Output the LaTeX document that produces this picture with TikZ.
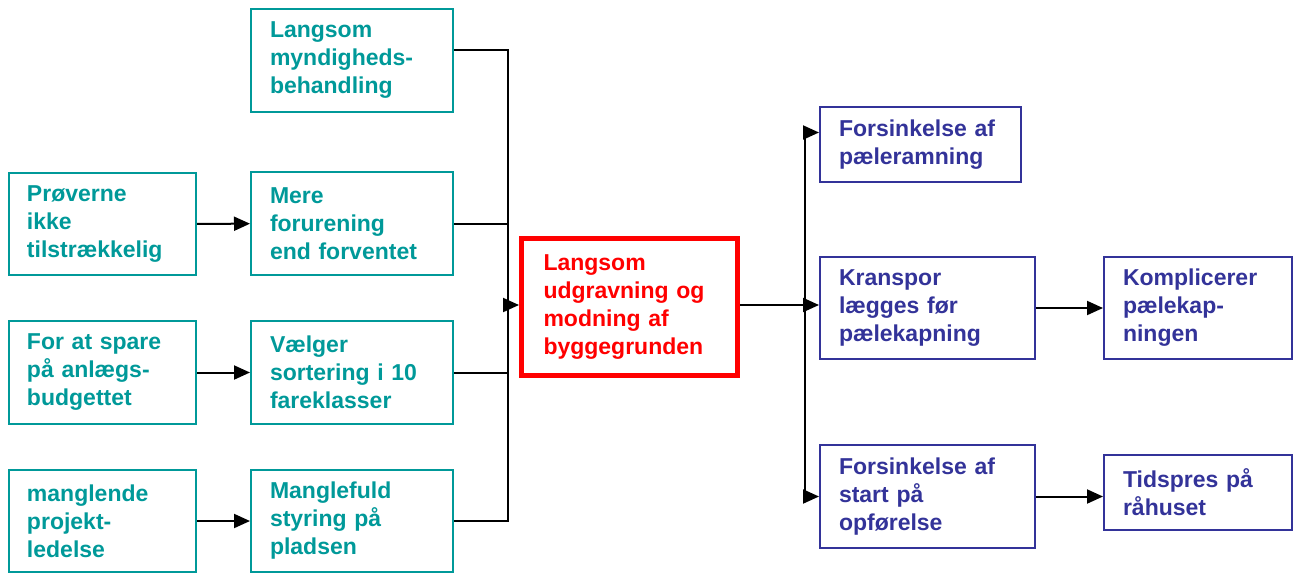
\documentclass[tikz,border=0pt]{standalone}
\usepackage{fontspec}
\setmainfont{Liberation Sans}
\usetikzlibrary{arrows.meta}
\definecolor{causeteal}{RGB}{0,153,153}
\definecolor{effectblue}{RGB}{51,51,153}
\begin{document}
\begin{tikzpicture}[x=1pt,y=1pt,
        box/.style={draw, line width=2pt, anchor=north west, inner xsep=20pt, inner ysep=0pt,
            align=left, font=\bfseries\fontsize{23}{28}\selectfont},
        cause/.style={box, draw=causeteal, text=causeteal},
        leftbox/.style={cause, inner xsep=18pt, minimum width=187pt, text width=151pt},
        midbox/.style={cause, inner xsep=19pt, minimum width=202pt, text width=164pt},
        effect/.style={box, draw=effectblue, text=effectblue, inner xsep=19pt},
        link/.style={line width=2pt},
        tip/.style={link, -{Triangle[length=16pt,width=14pt]}}]
    \useasboundingbox (0,0) rectangle (1297,-574);
    % causes
    \node [leftbox, minimum height=102pt] (proeve) at (8,-172) {Prøverne\\ikke\\tilstrækkelig};
    \node [leftbox, minimum height=103pt] (spare) at (8,-320) {For at spare\\på anlægs-\\budgettet};
    \node [leftbox, minimum height=102pt] (ledelse) at (8,-469) {manglende\\projekt-\\ledelse};
    \node [midbox, minimum height=103pt] (myndighed) at (250,-8) {Langsom\\myndigheds-\\behandling};
    \node [midbox, minimum height=103pt] (forurening) at (250,-171) {Mere\\forurening\\end forventet};
    \node [midbox, minimum height=103pt] (sortering) at (250,-320) {Vælger\\sortering i 10\\fareklasser};
    \node [midbox, minimum height=102pt] (styring) at (250,-469) {Manglefuld\\styring på\\pladsen};
    % main problem
    \node [box, draw=red, text=red, line width=5pt, inner xsep=22pt, minimum width=216pt,
        minimum height=137pt, text width=172pt] (udgravning) at (519,-236)
        {Langsom\\udgravning og\\modning af\\byggegrunden};
    % effects
    \node [effect, minimum width=201pt, minimum height=75pt, text width=163pt] (ramning) at (819,-106) {Forsinkelse af\\pæleramning};
    \node [effect, minimum width=215pt, minimum height=102pt, text width=177pt] (kranspor) at (819,-256) {Kranspor\\lægges før\\pælekapning};
    \node [effect, minimum width=188pt, minimum height=102pt, text width=150pt] (kapning) at (1103,-256) {Komplicerer\\pælekap-\\ningen};
    \node [effect, minimum width=215pt, minimum height=103pt, text width=177pt] (opfoerelse) at (819,-444) {Forsinkelse af\\start på\\opførelse};
    \node [effect, minimum width=188pt, minimum height=75pt, text width=150pt] (raahus) at (1103,-454) {Tidspres på\\råhuset};
    % connectors
    \coordinate (venstre) at (508,-305);
    \coordinate (hoejre) at (805,-305);
    \draw[tip] (proeve) -- (forurening);
    \draw[tip] (spare) -- (sortering);
    \draw[tip] (ledelse) -- (styring);
    \draw[link] ([yshift=11pt]myndighed.east) -| (venstre);
    \draw[link] (forurening.east) -| (venstre);
    \draw[link] (sortering.east) -| (venstre);
    \draw[link] (styring.east) -| (venstre);
    \draw[tip] (venstre) -- (udgravning.west |- venstre);
    \draw[link] (udgravning.east |- hoejre) -- (hoejre);
    \draw[tip] (hoejre) |- ([yshift=12pt]ramning.west);
    \draw[tip] (hoejre) -- (kranspor.west |- hoejre);
    \draw[tip] (hoejre) |- (opfoerelse.west);
    \draw[tip] (kranspor) -- (kapning);
    \draw[tip] (opfoerelse.east) -- (opfoerelse.east -| raahus.west);
\end{tikzpicture}
\end{document}
